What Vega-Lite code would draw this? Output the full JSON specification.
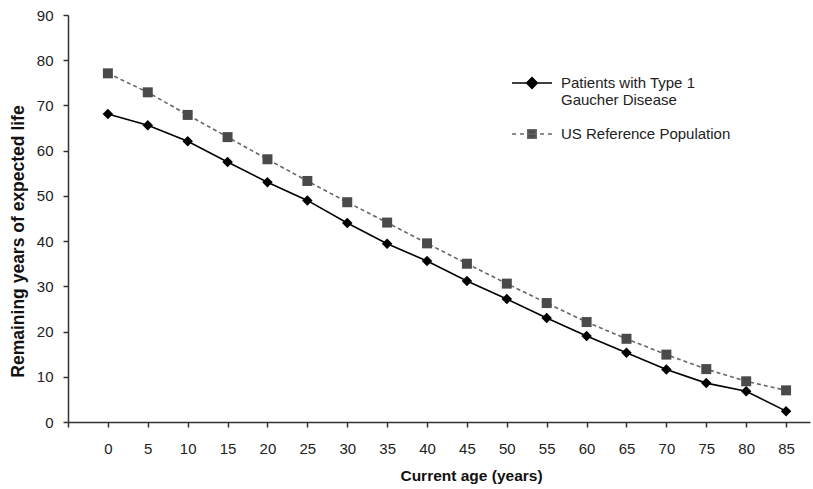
{
  "$schema": "https://vega.github.io/schema/vega-lite/v6.json",
  "width": 742,
  "height": 407,
  "autosize": "none",
  "padding": {"left": 68, "top": 15, "right": 3, "bottom": 67},
  "background": "white",
  "config": {
    "view": {"stroke": null},
    "font": "Liberation Sans",
    "axis": {"grid": false, "domainColor": "#333", "tickColor": "#333", "domainWidth": 1.5, "tickWidth": 1.5, "tickSize": 5, "labelColor": "#222", "labelFontSize": 15, "labelFont": "Liberation Sans", "titleFont": "Liberation Sans", "titleColor": "#111", "titleFontWeight": "bold"},
    "legend": {
      "title": null,
      "orient": "none",
      "legendX": 443,
      "legendY": 47,
      "symbolSize": 1600,
      "symbolStrokeWidth": 1.5,
      "labelFontSize": 15,
      "labelFont": "Liberation Sans",
      "labelColor": "#222",
      "labelOffset": 8,
      "rowPadding": 5,
      "labelLimit": 400
    }
  },
  "data": {
    "values": [
      {"age": 0, "years": 68.1, "series": "Patients with Type 1 Gaucher Disease"},
      {"age": 5, "years": 65.6, "series": "Patients with Type 1 Gaucher Disease"},
      {"age": 10, "years": 62.1, "series": "Patients with Type 1 Gaucher Disease"},
      {"age": 15, "years": 57.5, "series": "Patients with Type 1 Gaucher Disease"},
      {"age": 20, "years": 53.0, "series": "Patients with Type 1 Gaucher Disease"},
      {"age": 25, "years": 49.0, "series": "Patients with Type 1 Gaucher Disease"},
      {"age": 30, "years": 44.0, "series": "Patients with Type 1 Gaucher Disease"},
      {"age": 35, "years": 39.4, "series": "Patients with Type 1 Gaucher Disease"},
      {"age": 40, "years": 35.6, "series": "Patients with Type 1 Gaucher Disease"},
      {"age": 45, "years": 31.2, "series": "Patients with Type 1 Gaucher Disease"},
      {"age": 50, "years": 27.2, "series": "Patients with Type 1 Gaucher Disease"},
      {"age": 55, "years": 23.0, "series": "Patients with Type 1 Gaucher Disease"},
      {"age": 60, "years": 19.0, "series": "Patients with Type 1 Gaucher Disease"},
      {"age": 65, "years": 15.3, "series": "Patients with Type 1 Gaucher Disease"},
      {"age": 70, "years": 11.6, "series": "Patients with Type 1 Gaucher Disease"},
      {"age": 75, "years": 8.6, "series": "Patients with Type 1 Gaucher Disease"},
      {"age": 80, "years": 6.8, "series": "Patients with Type 1 Gaucher Disease"},
      {"age": 85, "years": 2.4, "series": "Patients with Type 1 Gaucher Disease"},
      {"age": 0, "years": 77.1, "series": "US Reference Population"},
      {"age": 5, "years": 72.9, "series": "US Reference Population"},
      {"age": 10, "years": 67.9, "series": "US Reference Population"},
      {"age": 15, "years": 63.0, "series": "US Reference Population"},
      {"age": 20, "years": 58.1, "series": "US Reference Population"},
      {"age": 25, "years": 53.3, "series": "US Reference Population"},
      {"age": 30, "years": 48.6, "series": "US Reference Population"},
      {"age": 35, "years": 44.1, "series": "US Reference Population"},
      {"age": 40, "years": 39.5, "series": "US Reference Population"},
      {"age": 45, "years": 35.0, "series": "US Reference Population"},
      {"age": 50, "years": 30.6, "series": "US Reference Population"},
      {"age": 55, "years": 26.3, "series": "US Reference Population"},
      {"age": 60, "years": 22.1, "series": "US Reference Population"},
      {"age": 65, "years": 18.4, "series": "US Reference Population"},
      {"age": 70, "years": 14.9, "series": "US Reference Population"},
      {"age": 75, "years": 11.7, "series": "US Reference Population"},
      {"age": 80, "years": 9.0, "series": "US Reference Population"},
      {"age": 85, "years": 7.0, "series": "US Reference Population"}
    ]
  },
  "encoding": {
    "x": {
      "field": "age", "type": "quantitative",
      "scale": {"domain": [-5, 88], "nice": false, "zero": false},
      "axis": {
        "values": [-5, 0, 5, 10, 15, 20, 25, 30, 35, 40, 45, 50, 55, 60, 65, 70, 75, 80, 85],
        "labelExpr": "datum.value < 0 ? '' : datum.label",
        "labelPadding": 14,
        "labelFlush": false,
        "title": "Current age (years)",
        "titleFontSize": 15.5,
        "titleX": 403,
        "titleY": 53,
        "titleBaseline": "middle"
      }
    },
    "y": {
      "field": "years", "type": "quantitative",
      "scale": {"domain": [0, 90], "nice": false},
      "axis": {
        "values": [0, 10, 20, 30, 40, 50, 60, 70, 80, 90],
        "labelPadding": 10,
        "labelFlush": false,
        "title": "Remaining years of expected life",
        "titleFontSize": 17.5,
        "titleX": -50,
        "titleY": 226,
        "titleAngle": -90,
        "titleAlign": "center",
        "titleBaseline": "middle"
      }
    }
  },
  "layer": [
    {
      "transform": [{"filter": "datum.series == 'Patients with Type 1 Gaucher Disease'"}],
      "mark": {"type": "line", "strokeWidth": 1.6, "color": "#000000"},
      "encoding": {}
    },
    {
      "transform": [{"filter": "datum.series == 'US Reference Population'"}],
      "mark": {"type": "line", "strokeWidth": 1.6, "color": "#666666", "strokeDash": [4, 3]},
      "encoding": {}
    },
    {
      "transform": [{"filter": "datum.series == 'Patients with Type 1 Gaucher Disease'"}],
      "mark": {"type": "point", "shape": "diamond", "filled": true, "opacity": 1, "size": 110, "color": "#000000"},
      "encoding": {}
    },
    {
      "transform": [{"filter": "datum.series == 'US Reference Population'"}],
      "mark": {"type": "point", "shape": "square", "filled": true, "opacity": 1, "size": 100, "color": "#4a4a4a"},
      "encoding": {}
    },
    {
      "mark": {"type": "point", "size": 0, "opacity": 1, "strokeWidth": 1.5},
      "encoding": {
        "fill": {
          "field": "series", "type": "nominal",
          "scale": {"domain": ["Patients with Type 1 Gaucher Disease", "US Reference Population"], "range": ["#000000", "#4a4a4a"]},
          "legend": {"labelExpr": "datum.value == 'Patients with Type 1 Gaucher Disease' ? ['Patients with Type 1', 'Gaucher Disease'] : datum.label"}
        },
        "stroke": {
          "field": "series", "type": "nominal",
          "scale": {"domain": ["Patients with Type 1 Gaucher Disease", "US Reference Population"], "range": ["#000000", "#666666"]},
          "legend": {"labelExpr": "datum.value == 'Patients with Type 1 Gaucher Disease' ? ['Patients with Type 1', 'Gaucher Disease'] : datum.label"}
        },
        "shape": {
          "field": "series", "type": "nominal",
          "scale": {"domain": ["Patients with Type 1 Gaucher Disease", "US Reference Population"], "range": ["M-1,0H1M0,-0.27L0.27,0L0,0.27L-0.27,0Z", "M-1,0H-0.8M-0.6,0H-0.4M-0.2,0H0.2M0.4,0H0.6M0.8,0H1M-0.21,-0.21H0.21V0.21H-0.21Z"]},
          "legend": {"labelExpr": "datum.value == 'Patients with Type 1 Gaucher Disease' ? ['Patients with Type 1', 'Gaucher Disease'] : datum.label"}
        }
      }
    }
  ]
}
